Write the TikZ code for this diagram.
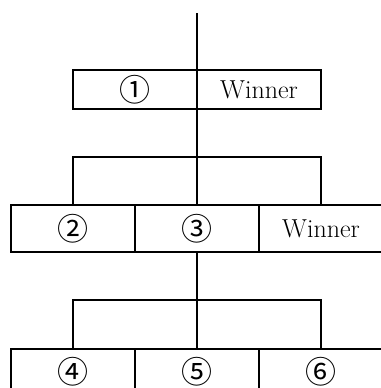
\documentclass[tikz,border=0pt]{standalone}
\usepackage{fontspec}
\newfontfamily\circfont{Noto Sans CJK JP}
\usepackage{tikz}

\begin{document}
\begin{tikzpicture}[x=1pt,y=-1pt,line width=2pt,font=\fontsize{26}{30}\selectfont,
  cell/.style={draw,rectangle,inner sep=0pt,outer sep=0pt,minimum height=39pt},
  num/.style={font=\circfont\fontsize{31}{34}\selectfont}]
\useasboundingbox (0,0) rectangle (380,388);
\coordinate (top) at (197,13);
\node[cell,num,minimum width=124pt] (c1) at (135,89.5) {①};
\node[cell,minimum width=124pt] (w1) at (259,89.5) {Winner};
\node[cell,num,minimum width=124pt,minimum height=47pt] (c2) at (73,228.5) {②};
\node[cell,num,minimum width=124pt,minimum height=47pt] (c3) at (197,228.5) {③};
\node[cell,minimum width=124pt,minimum height=47pt] (w2) at (321,228.5) {Winner};
\node[cell,num,minimum width=124pt,minimum height=47pt] (c4) at (73,372) {④};
\node[cell,num,minimum width=124pt,minimum height=47pt] (c5) at (197,372) {⑤};
\node[cell,num,minimum width=124pt,minimum height=47pt] (c6) at (321,372) {⑥};
\coordinate (j1) at (197,157);
\coordinate (j2) at (197,300);
\draw (top) -- (c1.north east);
\draw (c1.south east) -- (j1);
\draw (c2.north) |- (j1) -| (w2.north);
\draw (j1) -- (c3.north);
\draw (c3.south) -- (j2);
\draw (c4.north) |- (j2) -| (c6.north);
\draw (j2) -- (c5.north);
\end{tikzpicture}
\end{document}
